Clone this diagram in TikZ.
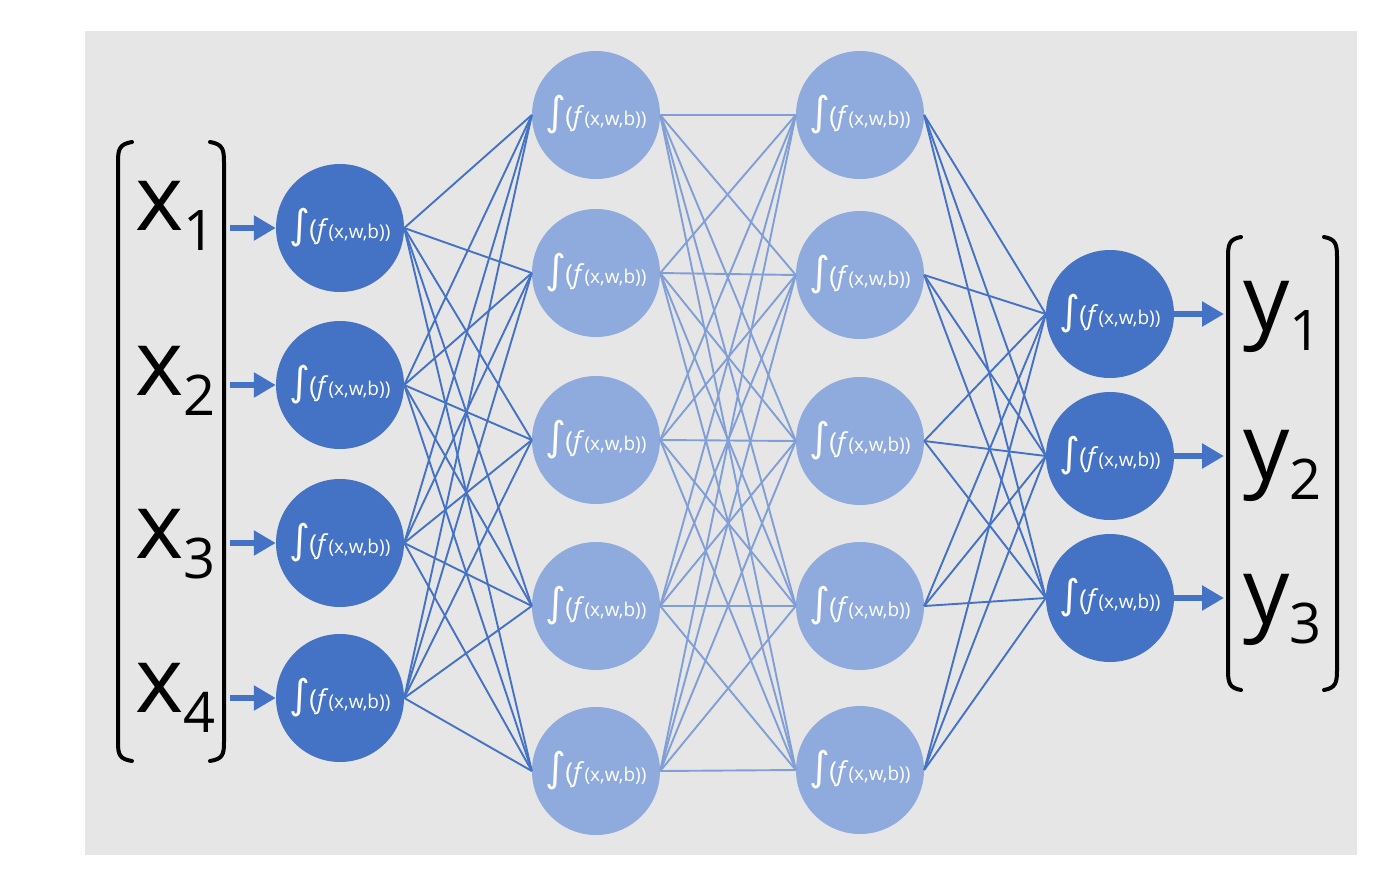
\documentclass[tikz,border=0pt]{standalone}
\usepackage{fontspec}
\setmainfont{Open Sans}
\newfontfamily\symfont{DejaVu Sans}
\usetikzlibrary{arrows.meta}
\tikzset{>={Triangle[width=24pt,length=22pt]}}
\definecolor{nndark}{HTML}{4472C4}
\definecolor{nnlight}{HTML}{8FAADC}
\definecolor{nnback}{HTML}{E7E6E6}
\newcommand{\actfn}{{\symfont\fontsize{40}{40}\selectfont ∫}\kern-1pt{\fontsize{26}{26}\selectfont(\textit{f}}{\fontsize{19}{19}\selectfont(x,w,b))}}
\newcommand{\vecent}[2]{{\fontsize{92}{92}\selectfont #1}\raisebox{-20pt}{\fontsize{56}{56}\selectfont #2}}

\begin{document}
\begin{tikzpicture}[x=1pt,y=-1pt]
          \tikzstyle{dnode} = [circle, fill=nndark, minimum size=128pt, inner sep=0pt, text=white]
          \tikzstyle{lnode} = [circle, fill=nnlight, minimum size=128pt, inner sep=0pt, text=white]
          \tikzstyle{wdark} = [nndark, line width=1.9pt]
          \tikzstyle{wlight} = [nnlight!80!nndark, line width=1.9pt]
          \tikzstyle{feed} = [nndark, line width=6pt, ->]
          \tikzstyle{brack} = [black, line width=4pt, line cap=round]
          \tikzstyle{entry} = [anchor=base west, inner sep=0pt]

          \useasboundingbox (0,0) rectangle (1389,878);
          \fill[nnback] (85,31) rectangle (1357,855);

          % input layer
          \node[dnode] (i1) at (340,228) {\actfn};
          \node[dnode] (i2) at (340,385) {\actfn};
          \node[dnode] (i3) at (340,543) {\actfn};
          \node[dnode] (i4) at (340,698) {\actfn};
          % hidden layers
          \node[lnode] (a1) at (596,115) {\actfn};
          \node[lnode] (a2) at (596,273) {\actfn};
          \node[lnode] (a3) at (596,440) {\actfn};
          \node[lnode] (a4) at (596,606) {\actfn};
          \node[lnode] (a5) at (596,771) {\actfn};
          \node[lnode] (b1) at (860,115) {\actfn};
          \node[lnode] (b2) at (860,275) {\actfn};
          \node[lnode] (b3) at (860,441) {\actfn};
          \node[lnode] (b4) at (860,606) {\actfn};
          \node[lnode] (b5) at (860,770) {\actfn};
          % output layer
          \node[dnode] (o1) at (1110,314) {\actfn};
          \node[dnode] (o2) at (1110,456) {\actfn};
          \node[dnode] (o3) at (1110,598) {\actfn};

          \foreach \i in {1,...,4}
            \foreach \j in {1,...,5}
              \draw[wdark] (i\i.east) -- (a\j.west);
          \foreach \i in {1,...,5}
            \foreach \j in {1,...,5}
              \draw[wlight] (a\i.east) -- (b\j.west);
          \foreach \i in {1,...,5}
            \foreach \j in {1,...,3}
              \draw[wdark] (b\i.east) -- (o\j.west);

          % input vector
          \node[entry] (x1) at (135,230) {\vecent{x}{1}};
          \node[entry] (x2) at (135,395) {\vecent{x}{2}};
          \node[entry] (x3) at (135,558) {\vecent{x}{3}};
          \node[entry] (x4) at (135,712) {\vecent{x}{4}};
          \draw[brack] (132,142) .. controls (119,144) and (118,150) .. (118,162) -- (118,742) .. controls (118,754) and (119,759) .. (132,761);
          \draw[brack] (210,142) .. controls (223,144) and (224,150) .. (224,162) -- (224,742) .. controls (224,754) and (223,759) .. (210,761);
          \coordinate (xe1) at (230,228);
          \coordinate (xe2) at (230,385);
          \coordinate (xe3) at (230,543);
          \coordinate (xe4) at (230,698);
          \foreach \k in {1,...,4}
            \draw[feed] (xe\k) -- (i\k.west);

          % output vector
          \node[entry] (y1) at (1243,330) {\vecent{y}{1}};
          \node[entry] (y2) at (1243,479) {\vecent{y}{2}};
          \node[entry] (y3) at (1243,623) {\vecent{y}{3}};
          \draw[brack] (1241,237) .. controls (1229,239) and (1228,245) .. (1228,257) -- (1228,670) .. controls (1228,682) and (1229,688) .. (1241,690);
          \draw[brack] (1324,237) .. controls (1336,239) and (1337,245) .. (1337,257) -- (1337,670) .. controls (1337,682) and (1336,688) .. (1324,690);
          \coordinate (ye1) at (1224,314);
          \coordinate (ye2) at (1224,456);
          \coordinate (ye3) at (1224,598);
          \foreach \k in {1,...,3}
            \draw[feed] (o\k.east) -- (ye\k);
        \end{tikzpicture}
\end{document}
